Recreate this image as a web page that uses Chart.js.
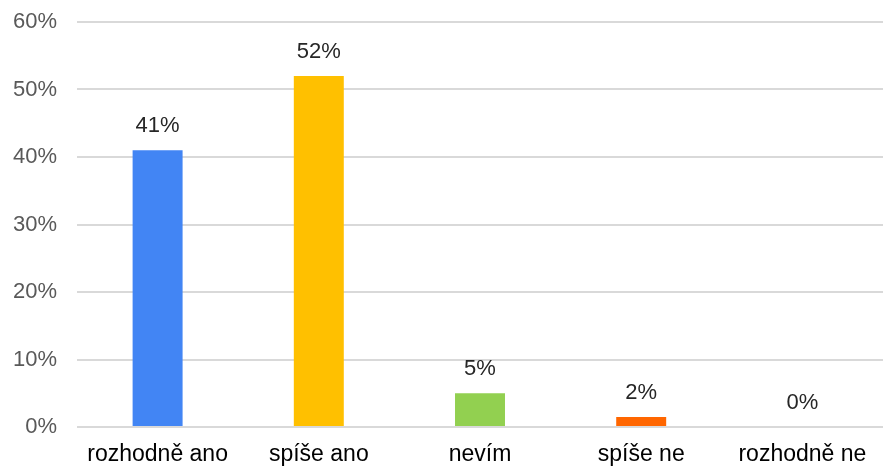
<!DOCTYPE html>
<html>
<head>
<meta charset="utf-8">
<script src="https://cdn.jsdelivr.net/npm/chart.js@4"></script>
<style>
  html, body { margin: 0; padding: 0; background: #fff; }
  #wrap { width: 883px; height: 468px; }
</style>
</head>
<body>
<div id="wrap"><canvas id="myChart" width="883" height="468"></canvas></div>
<script>
const labels = ['rozhodně ano', 'spíše ano', 'nevím', 'spíše ne', 'rozhodně ne'];
const values = [41, 52, 5, 1.5, 0];
const valueLabels = ['41%', '52%', '5%', '2%', '0%'];
const colors = ['#4285f4', '#ffc000', '#92d050', '#ff6600', '#a5a5a5'];
const yTicks = [0, 10, 20, 30, 40, 50, 60];

const fontFamily = '"Liberation Sans", Arial, sans-serif';

// draws the percentage above each bar
const valueLabelPlugin = {
  id: 'valueLabels',
  afterDatasetsDraw(chart) {
    const ctx = chart.ctx;
    const meta = chart.getDatasetMeta(0);
    ctx.save();
    ctx.font = '22px ' + fontFamily;
    ctx.fillStyle = '#262626';
    ctx.textAlign = 'center';
    ctx.textBaseline = 'middle';
    meta.data.forEach((bar, i) => {
      ctx.fillText(valueLabels[i], bar.x, bar.y - 24);
    });
    ctx.restore();
  }
};

const ctx = document.getElementById('myChart').getContext('2d');

const config = {
  type: 'bar',
  data: {
    labels: labels,
    datasets: [{
      data: values,
      backgroundColor: colors,
      barPercentage: 0.31,
      categoryPercentage: 1
    }]
  },
  options: {
    responsive: false,
    animation: false,
    layout: { padding: { top: 22, left: 0, right: -5, bottom: 0 } },
    plugins: {
      legend: { display: false },
      tooltip: { enabled: false }
    },
    scales: {
      x: {
        grid: { display: false, drawTicks: false },
        border: { display: false },
        afterFit(axis) {
          axis.height = 41;
          axis.paddingLeft = 0;
          axis.paddingRight = 0;
        },
        ticks: {
          color: '#000',
          padding: 14,
          font: { size: 23, family: fontFamily }
        }
      },
      y: {
        min: 0,
        max: 60,
        afterBuildTicks(axis) {
          axis.ticks = yTicks.map(v => ({ value: v }));
        },
        afterFit(axis) {
          axis.width = 77;
          axis.paddingTop = 0;
          axis.paddingBottom = 0;
        },
        grid: { color: '#d9d9d9', lineWidth: 2, drawTicks: false },
        border: { display: false },
        ticks: {
          color: '#595959',
          padding: 20,
          callback: v => v + '%',
          font: { size: 22, family: fontFamily }
        }
      }
    }
  },
  plugins: [valueLabelPlugin]
};

const myChart = new Chart(ctx, config);
</script>
</body>
</html>
